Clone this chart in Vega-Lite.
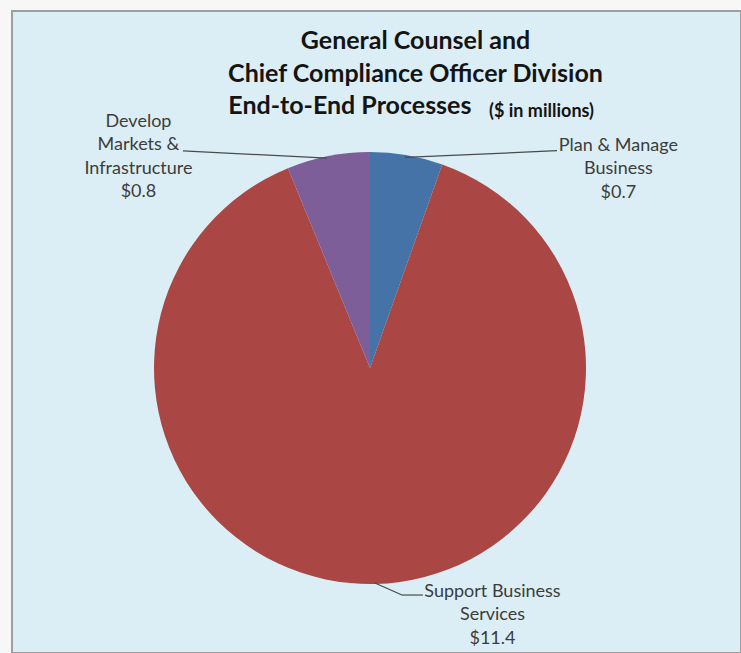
{
  "$schema": "https://vega.github.io/schema/vega-lite/v6.json",
  "width": 729,
  "height": 642,
  "autosize": {"type": "none"},
  "padding": {"left": 12, "top": 11, "right": 0, "bottom": 0},
  "background": "#F7F7F7",
  "config": {
    "view": {"fill": "#DCEEF5", "stroke": "#9E9E9E", "strokeWidth": 2}
  },
  "title": {
    "text": ["General Counsel and", "Chief Compliance Officer Division", "End-to-End Processes\u2003\u2003\u2003\u2003\u2003\u2003\u2003\u200b"],
    "subtitle": "\u200b\u2003\u2003\u2003\u2003\u2003\u2003\u2003\u2003\u2003\u2003\u2003\u2003\u2003\u2003\u2003\u2003\u2003\u2003\u2002($ in millions)",
    "anchor": "middle",
    "orient": "top",
    "frame": "group",
    "dx": 39,
    "offset": -110,
    "font": "Lato",
    "fontSize": 25,
    "fontWeight": "bold",
    "color": "#141414",
    "lineHeight": 32.5,
    "subtitleFont": "Lato",
    "subtitleFontSize": 18,
    "subtitleFontWeight": "bold",
    "subtitleColor": "#141414",
    "subtitlePadding": -16
  },
  "data": {
    "values": [
      {"process": "Plan & Manage\nBusiness", "value": 0.7},
      {"process": "Support Business\nServices", "value": 11.4},
      {"process": "Develop\nMarkets &\nInfrastructure", "value": 0.8}
    ]
  },
  "transform": [
    {"window": [{"op": "row_number", "as": "seq"}]},
    {"calculate": "datum.process + '\\n$' + format(datum.value, '.1f')", "as": "label"}
  ],
  "layer": [
    {
      "mark": {"type": "arc", "radius": 216},
      "encoding": {
        "x": {"datum": 0, "type": "quantitative", "scale": {"domain": [-165.74, 171.76], "nice": false, "zero": false}, "axis": null},
        "y": {"datum": 0, "type": "quantitative", "scale": {"domain": [-131.94, 165.28], "nice": false, "zero": false}, "axis": null},
        "theta": {"field": "value", "type": "quantitative", "stack": true},
        "order": {"field": "seq", "type": "quantitative"},
        "color": {
          "field": "process",
          "type": "nominal",
          "scale": {
            "domain": ["Plan & Manage\nBusiness", "Support Business\nServices", "Develop\nMarkets &\nInfrastructure"],
            "range": ["#4572A7", "#AA4643", "#7D5E99"]
          },
          "legend": null
        }
      }
    },
    {
      "transform": [{"filter": "datum.seq == 3"}],
      "mark": {"type": "rule", "color": "#4a4a4a", "strokeWidth": 1.2},
      "encoding": {
        "x": {"datum": -86.6, "type": "quantitative"},
        "y": {"datum": 100.5, "type": "quantitative"},
        "x2": {"datum": -19.9},
        "y2": {"datum": 97.2}
      }
    },
    {
      "transform": [{"filter": "datum.seq == 1"}],
      "mark": {"type": "rule", "color": "#4a4a4a", "strokeWidth": 1.2},
      "encoding": {
        "x": {"datum": 16.2, "type": "quantitative"},
        "y": {"datum": 97.5, "type": "quantitative"},
        "x2": {"datum": 86.6},
        "y2": {"datum": 100.6}
      }
    },
    {
      "transform": [{"filter": "datum.seq == 2"}],
      "mark": {"type": "rule", "color": "#4a4a4a", "strokeWidth": 1.2},
      "encoding": {
        "x": {"datum": 2.3, "type": "quantitative"},
        "y": {"datum": -99.5, "type": "quantitative"},
        "x2": {"datum": 14.8},
        "y2": {"datum": -105.1}
      }
    },
    {
      "transform": [{"filter": "datum.seq == 2"}],
      "mark": {"type": "rule", "color": "#4a4a4a", "strokeWidth": 1.2},
      "encoding": {
        "x": {"datum": 14.8, "type": "quantitative"},
        "y": {"datum": -105.1, "type": "quantitative"},
        "x2": {"datum": 24.5},
        "y2": {"datum": -105.1}
      }
    },
    {
      "transform": [{"filter": "datum.seq == 3"}],
      "mark": {"type": "text", "font": "Lato", "fontSize": 18, "color": "#3c3c3c", "lineBreak": "\n", "lineHeight": 23.5, "align": "center", "baseline": "middle"},
      "encoding": {
        "x": {"datum": -107.2, "type": "quantitative"},
        "y": {"datum": 113.9, "type": "quantitative"},
        "text": {"field": "label"}
      }
    },
    {
      "transform": [{"filter": "datum.seq == 1"}],
      "mark": {"type": "text", "font": "Lato", "fontSize": 18, "color": "#3c3c3c", "lineBreak": "\n", "lineHeight": 23.5, "align": "center", "baseline": "middle"},
      "encoding": {
        "x": {"datum": 115.0, "type": "quantitative"},
        "y": {"datum": 102.8, "type": "quantitative"},
        "text": {"field": "label"}
      }
    },
    {
      "transform": [{"filter": "datum.seq == 2"}],
      "mark": {"type": "text", "font": "Lato", "fontSize": 18, "color": "#3c3c3c", "lineBreak": "\n", "lineHeight": 23.5, "align": "center", "baseline": "middle"},
      "encoding": {
        "x": {"datum": 56.7, "type": "quantitative"},
        "y": {"datum": -103.6, "type": "quantitative"},
        "text": {"field": "label"}
      }
    }
  ]
}
